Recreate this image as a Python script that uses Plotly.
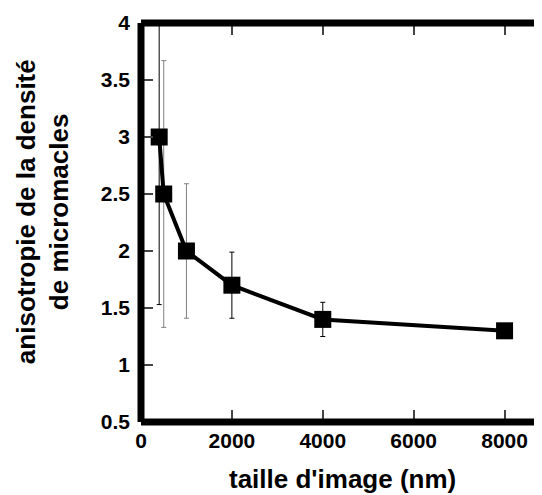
import plotly.graph_objects as go

# taille d'image (nm) / anisotropie
taille = [400, 500, 1000, 2000, 4000, 8000]
anisotropie = [3.0, 2.5, 2.0, 1.7, 1.4, 1.3]
erreur = [1.47, 1.17, 0.59, 0.29, 0.15, 0.02]
couleur_err = ["black", "gray", "gray", "black", "black", "black"]

x_ticks = [0, 2000, 4000, 6000, 8000]
y_ticks = [0.5, 1, 1.5, 2, 2.5, 3, 3.5, 4]

fig = go.Figure()

# error bars, split by colour
for col in ["black", "gray"]:
    idx = [i for i, c in enumerate(couleur_err) if c == col]
    fig.add_trace(go.Scatter(
        x=[taille[i] for i in idx],
        y=[anisotropie[i] for i in idx],
        mode="markers",
        marker=dict(size=1, color="rgba(0,0,0,0)"),
        error_y=dict(type="data", array=[erreur[i] for i in idx],
                     color=col, thickness=1, width=2.5),
        showlegend=False, hoverinfo="skip",
    ))

fig.add_trace(go.Scatter(
    x=taille, y=anisotropie, mode="lines+markers",
    line=dict(color="black", width=4),
    marker=dict(symbol="square", size=17, color="black"),
    showlegend=False,
))

fig.update_layout(
    width=542, height=495,
    margin=dict(l=133, r=0, t=15, b=81),
    plot_bgcolor="white", paper_bgcolor="white",
    font=dict(family="Liberation Sans, Arial", size=18, color="black"),
    xaxis=dict(
        range=[0, 9000], tickvals=x_ticks, showgrid=False, zeroline=False,
        showline=False, ticks="inside", ticklen=12, tickwidth=1.5,
        tickcolor="#444", mirror="ticks", automargin=False,
        ticklabelstandoff=4,
        tickfont=dict(size=21, weight="bold"),
    ),
    yaxis=dict(
        range=[0.5, 4], tickvals=y_ticks, ticktext=[str(v) for v in y_ticks],
        showgrid=False, zeroline=False,
        showline=False, ticks="inside", ticklen=12, tickwidth=1.5,
        tickcolor="#444", mirror="ticks", automargin=False,
        ticklabelstandoff=10,
        tickfont=dict(size=21, weight="bold"),
    ),
)

# axis titles
fig.add_annotation(text="taille d'image (nm)", xref="paper", yref="paper",
                   x=0.4927, y=-0.143, xanchor="center", yanchor="middle",
                   showarrow=False, font=dict(size=26, weight="bold"))
fig.add_annotation(text="anisotropie de la densité", xref="paper", yref="paper",
                   x=0, y=0.526, xshift=-115, xanchor="center", yanchor="middle",
                   textangle=-90, showarrow=False, font=dict(size=26, weight="bold"))
fig.add_annotation(text="de micromacles", xref="paper", yref="paper",
                   x=0, y=0.526, xshift=-82, xanchor="center", yanchor="middle",
                   textangle=-90, showarrow=False, font=dict(size=26, weight="bold"))

# thick frame on left, top and bottom
for x0, y0, x1, y1 in [(0, 0, 0, 1), (0, 1, 1, 1), (0, 0, 1, 0)]:
    fig.add_shape(type="line", xref="paper", yref="paper",
                  x0=x0, y0=y0, x1=x1, y1=y1,
                  line=dict(color="black", width=7))

fig.write_html("out.html")
